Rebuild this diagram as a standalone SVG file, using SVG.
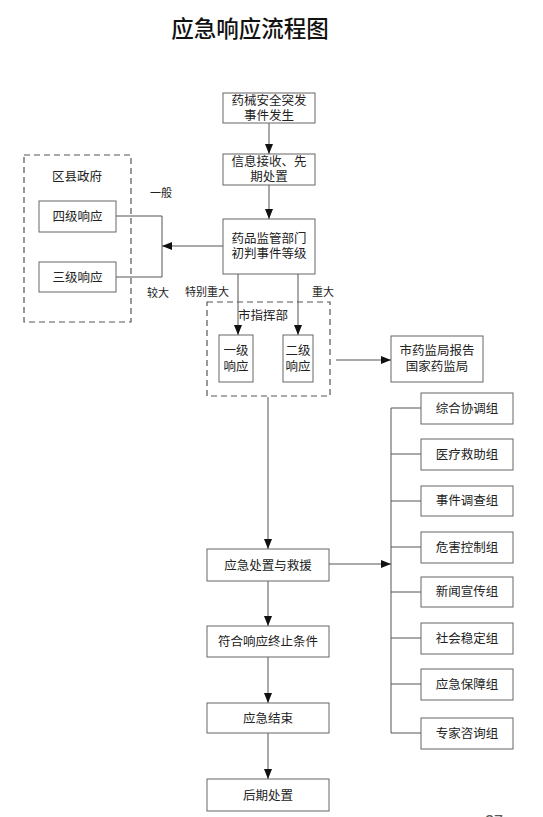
<svg xmlns="http://www.w3.org/2000/svg" width="543" height="817" viewBox="0 0 543 817">
<defs>
<marker id="ah" markerWidth="10" markerHeight="8" refX="10" refY="4" orient="auto" markerUnits="userSpaceOnUse">
<path d="M0,0 L10,4 L0,8 Z" fill="#111"/>
</marker>
</defs>
<style>
.box{fill:#fff;stroke:#666;stroke-width:1}
.dash{fill:none;stroke:#555;stroke-width:1.2;stroke-dasharray:6,4}
.t{font-family:"Noto Sans CJK SC","Noto Sans",sans-serif;font-size:12.5px;fill:#222;text-anchor:middle}
.t2{font-family:"Liberation Sans","Noto Sans CJK SC",sans-serif;font-size:12.5px;fill:#222;text-anchor:middle}
.lbl{font-family:"Noto Sans CJK SC","Noto Sans",sans-serif;font-size:11px;fill:#222;text-anchor:middle}
.ln{fill:none;stroke:#555;stroke-width:1}
.ar{fill:none;stroke:#555;stroke-width:1;marker-end:url(#ah)}
</style>
<rect width="543" height="817" fill="#fff"/>
<text x="250" y="37" font-family="'Noto Sans CJK SC',sans-serif" font-size="22.5" font-weight="500" fill="#111" text-anchor="middle">应急响应流程图</text>

<g id="connectors">
<path class="ar" d="M269,123 V154"/>
<path class="ar" d="M269,185 V219"/>
<path class="ar" d="M223,246 H162"/>
<path class="ln" d="M116,216 H162 V277 H116"/>
<path class="ar" d="M238,274 V335"/>
<path class="ar" d="M298,274 V335"/>
<path class="ar" d="M336,360 H391"/>
<path class="ar" d="M268,397 V549"/>
<path class="ar" d="M329,564 H391"/>
<path class="ln" d="M391,408 V733"/>
<path class="ln" d="M391,408 H421 M391,454 H421 M391,501 H421 M391,547 H421 M391,592 H421 M391,638 H421 M391,684 H421 M391,733 H421"/>
<path class="ar" d="M268,581 V626"/>
<path class="ar" d="M268,657 V703"/>
<path class="ar" d="M268,733 V779"/>
<text class="lbl" x="161" y="197">一般</text>
<text class="lbl" x="158" y="297">较大</text>
<text class="lbl" x="207" y="296">特别重大</text>
<text class="lbl" x="323" y="296">重大</text>
</g>

<g id="n-start"><rect class="box" x="223" y="93" width="92" height="30"/><text class="t2" x="269" y="105">药械安全突发</text><text class="t2" x="269" y="120">事件发生</text></g>
<g id="n-info"><rect class="box" x="223" y="154" width="92" height="31"/><text class="t2" x="269" y="166">信息接收、先</text><text class="t2" x="269" y="181">期处置</text></g>
<g id="n-judge"><rect class="box" x="223" y="219" width="92" height="55"/><text class="t2" x="269" y="243">药品监管部门</text><text class="t2" x="269" y="258">初判事件等级</text></g>

<g id="n-county"><rect class="dash" x="24" y="155" width="107" height="167"/><text class="t" x="77" y="181">区县政府</text></g>
<g id="n-lv4"><rect class="box" x="39" y="201" width="77" height="31"/><text class="t" x="77.5" y="221">四级响应</text></g>
<g id="n-lv3"><rect class="box" x="39" y="262" width="77" height="30"/><text class="t" x="77.5" y="282">三级响应</text></g>

<g id="n-city"><rect class="dash" x="207" y="302" width="123" height="94"/><text class="t" x="263" y="320">市指挥部</text></g>
<g id="n-lv1"><rect class="box" x="219" y="335" width="34" height="47"/><text class="t2" x="236" y="355">一级</text><text class="t2" x="236" y="371">响应</text></g>
<g id="n-lv2"><rect class="box" x="283" y="335" width="30" height="47"/><text class="t2" x="298" y="355">二级</text><text class="t2" x="298" y="371">响应</text></g>
<g id="n-report"><rect class="box" x="391" y="336" width="92" height="46"/><text class="t2" x="437" y="355">市药监局报告</text><text class="t2" x="437" y="371">国家药监局</text></g>

<g id="n-rescue"><rect class="box" x="207" y="549" width="122" height="32"/><text class="t" x="268" y="570">应急处置与救援</text></g>
<g id="n-cond"><rect class="box" x="207" y="626" width="122" height="31"/><text class="t" x="268" y="646">符合响应终止条件</text></g>
<g id="n-end"><rect class="box" x="207" y="703" width="122" height="30"/><text class="t" x="268" y="723">应急结束</text></g>
<g id="n-after"><rect class="box" x="207" y="779" width="122" height="32"/><text class="t" x="268" y="800">后期处置</text></g>

<g id="n-g1"><rect class="box" x="421" y="393" width="92" height="31"/><text class="t" x="467" y="413">综合协调组</text></g>
<g id="n-g2"><rect class="box" x="421" y="439" width="92" height="31"/><text class="t" x="467" y="459">医疗救助组</text></g>
<g id="n-g3"><rect class="box" x="421" y="486" width="92" height="30"/><text class="t" x="467" y="505">事件调查组</text></g>
<g id="n-g4"><rect class="box" x="421" y="532" width="92" height="31"/><text class="t" x="467" y="552">危害控制组</text></g>
<g id="n-g5"><rect class="box" x="421" y="577" width="92" height="30"/><text class="t" x="467" y="596">新闻宣传组</text></g>
<g id="n-g6"><rect class="box" x="421" y="623" width="92" height="31"/><text class="t" x="467" y="643">社会稳定组</text></g>
<g id="n-g7"><rect class="box" x="421" y="669" width="92" height="31"/><text class="t" x="467" y="689">应急保障组</text></g>
<g id="n-g8"><rect class="box" x="421" y="718" width="92" height="31"/><text class="t" x="467" y="738">专家咨询组</text></g>

<text x="494" y="827" font-family="'Liberation Sans',sans-serif" font-size="16" fill="#555" text-anchor="middle">27</text>
</svg>
